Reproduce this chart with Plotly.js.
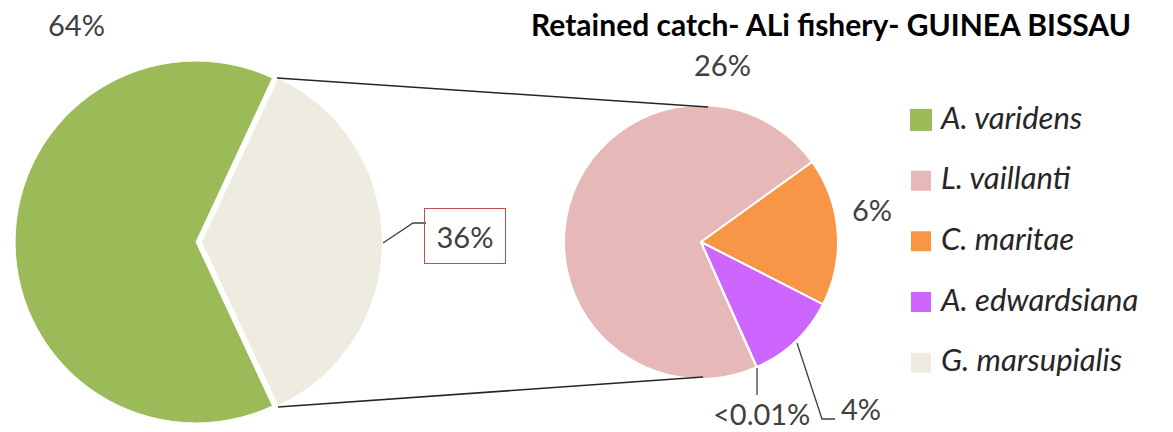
<!DOCTYPE html>
<html>
<head>
<meta charset="utf-8">
<script src="https://cdn.plot.ly/plotly-3.0.1.min.js"></script>
<style>
  html, body { margin: 0; padding: 0; background: #ffffff; }
  #chart { width: 1173px; height: 432px; }
</style>
</head>
<body>
<div id="chart"></div>
<script>
// ---- Data ----
const titleText = 'Retained catch- ALi fishery- GUINEA BISSAU';
const mainSpecies = 'A. varidens';
const mainValue = 63.9;                       // % of retained catch
const otherLabel = 'Other';
const secondarySpecies = ['L. vaillanti', 'C. maritae', 'A. edwardsiana', 'G. marsupialis'];
const secondaryValues  = [25.9, 6.3, 3.9, 0.005];   // % of retained catch
const speciesColors = {
  'A. varidens': '#9BBB59',
  'L. vaillanti': '#E6B9B8',
  'C. maritae': '#F79646',
  'A. edwardsiana': '#CC66FF',
  'G. marsupialis': '#EEECE1'
};
const otherColor = '#EEECE1';

// ---- Derived ----
const otherValue = secondaryValues.reduce((a, b) => a + b, 0);
const total = mainValue + otherValue;
const fmt = v => (v < 0.01 ? '<0.01%' : Math.round(v) + '%');

const W = 1173, H = 432;
const px = (x, y) => ({ x: x / W, y: 1 - y / H });

// legend labels (larger italic text, two-line items for spacing)
const legendLabel = s => '<span style="font-size:31px">' + s + '</span><br> ';

const pullOther = 0.03;
const leftRotation = 90 + 180 * otherValue / total;

const traces = [
  // legend entry for the main species: tiny pie hidden under the primary pie
  {
    type: 'pie', labels: [legendLabel(mainSpecies)], values: [mainValue],
    marker: { colors: [speciesColors[mainSpecies]], line: { width: 0 } },
    domain: { x: [0.10, 0.11], y: [0.45, 0.47] },
    textinfo: 'none', hoverinfo: 'skip', sort: false, showlegend: true
  },
  // primary pie
  {
    type: 'pie', labels: [mainSpecies, otherLabel], values: [mainValue, otherValue],
    marker: { colors: [speciesColors[mainSpecies], otherColor], line: { color: '#ffffff', width: 1 } },
    pull: [0, pullOther],
    domain: { x: [0.0082, 0.3260], y: [0.0083, 0.8713] },
    direction: 'clockwise', rotation: leftRotation, sort: false,
    textinfo: 'none', hoverinfo: 'label+percent', showlegend: false
  },
  // secondary pie
  {
    type: 'pie', labels: secondarySpecies.map(legendLabel), values: secondaryValues,
    marker: { colors: secondarySpecies.map(s => speciesColors[s]), line: { color: '#ffffff', width: 2 } },
    domain: { x: [0.4808, 0.7144], y: [0.1227, 0.7569] },
    direction: 'clockwise', rotation: 156, sort: false,
    textinfo: 'none', hoverinfo: 'label+value', showlegend: true
  }
];

const labelFont = { family: 'Lato, "Open Sans", sans-serif', size: 29, color: '#404040' };
function label(text, x, y, extra) {
  const p = px(x, y);
  return Object.assign({ xref: 'paper', yref: 'paper', x: p.x, y: p.y, text: text,
    showarrow: false, font: labelFont, xanchor: 'center', yanchor: 'middle' }, extra || {});
}

const annotations = [
  label(fmt(mainValue), 76, 24),
  label(fmt(otherValue), 465, 236, { bordercolor: '#C0504D', borderwidth: 1, width: 78, height: 52 }),
  label(fmt(secondaryValues[0]), 722, 64),
  label(fmt(secondaryValues[1]), 872, 209),
  label(fmt(secondaryValues[2]), 861, 408),
  label(fmt(secondaryValues[3]), 761, 413)
];

function seg(pts, color, width) {
  let d = '';
  pts.forEach((p, i) => { const q = px(p[0], p[1]); d += (i ? 'L' : 'M') + q.x + ',' + q.y; });
  return { type: 'path', xref: 'paper', yref: 'paper', path: d, line: { color: color, width: width } };
}

const shapes = [
  seg([[277, 78], [708, 107]], '#262626', 1.5),
  seg([[278, 407], [703, 377]], '#262626', 1.5),
  seg([[383, 243], [413, 223], [426, 223]], '#404040', 1.3),
  seg([[757, 368], [757, 395]], '#404040', 1.3),
  seg([[797, 343], [822, 419], [835, 419]], '#404040', 1.3)
];

const layout = {
  width: W, height: H,
  margin: { l: 0, r: 0, t: 0, b: 0 },
  paper_bgcolor: '#ffffff',
  title: {
    text: '<b>' + titleText + '</b>',
    font: { family: 'Lato, "Open Sans", sans-serif', size: 30, color: '#000000' },
    xref: 'paper', x: 831 / W, xanchor: 'center',
    yref: 'container', y: 1 - 36 / H, yanchor: 'bottom'
  },
  showlegend: true,
  legend: {
    x: 901 / W, xanchor: 'left', y: 1 - 99 / H, yanchor: 'top',
    valign: 'top',
    font: { family: 'Lato, "Open Sans", sans-serif', size: 22.2, color: '#262626', style: 'italic' },
    bgcolor: 'rgba(0,0,0,0)'
  },
  annotations: annotations,
  shapes: shapes
};

Plotly.newPlot('chart', traces, layout, { displayModeBar: false, staticPlot: true }).then(function () {
  document.querySelectorAll('path.legendpie').forEach(function (p) {
    p.setAttribute('d', 'M11,11H-11V-11H11Z');
  });
});
</script>
</body>
</html>
